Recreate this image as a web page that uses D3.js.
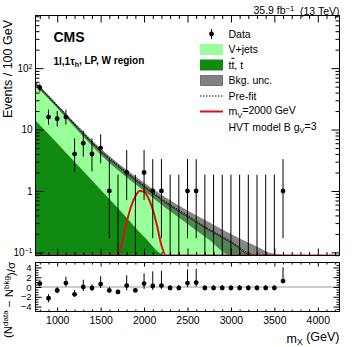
<!DOCTYPE html>
<html>
<head>
<meta charset="utf-8">
<script src="https://cdnjs.cloudflare.com/ajax/libs/d3/7.8.5/d3.min.js"></script>
<style>
body { margin: 0; background: #fff; }
text { font-family: "Liberation Sans", Arial, Helvetica, sans-serif; fill: #000; }
</style>
</head>
<body>
<div class="chart"></div>
<script>
// data
var massBins = [800, 900, 1000, 1100, 1200, 1300, 1400, 1500, 1600, 1700, 1800, 1900, 2000, 2100, 2200,
                2300, 2400, 2500, 2600, 2700, 2800, 2900, 3000, 3100, 3200, 3300, 3400, 3500, 3600];
var dataCounts = [48, 16, 15, 16, 4, 6, 4, 5, 1, 0, 2, 0, 2, 1, 1,
                  0, 0, 1, 1, 0, 0, 0, 0, 0, 0, 0, 0, 0, 1];
var dataLow = [41.1, 12.0, 11.2, 12.0, 2.08, 3.62, 2.08, 2.84, 0.17, 0, 0.71, 0, 0.71, 0.17, 0.17,
               0, 0, 0.17, 0.17, 0, 0, 0, 0, 0, 0, 0, 0, 0, 0.17];
var dataHigh = [56.0, 21.1, 20.0, 21.1, 7.16, 9.58, 7.16, 8.38, 3.30, 1.84, 4.64, 1.84, 4.64, 3.30, 3.30,
                1.84, 1.84, 3.30, 3.30, 1.84, 1.84, 1.84, 1.84, 1.84, 1.84, 1.84, 1.84, 1.84, 3.30];

var pulls = [0.7, -2.3, -0.7, 0.8, -1.5, 0.0, -0.2, 0.6, -0.7, -1.0, 0.3, -0.7, 0.7, 0.2, 0.3,
             -0.2, -0.2, 0.8, 0.9, -0.2, -0.2, -0.2, -0.2, -0.2, -0.2, -0.2, -0.2, -0.2, 1.2];
var pullErrLow = [0.6, 0.8, 0.6, 0.7, 0.5, 0.8, 0.6, 0.8, 0.5, 0.3, 1.0, 0.3, 1.1, 0.8, 0.7,
                  0.1, 0.1, 0.8, 0.8, 0.1, 0.1, 0.1, 0.1, 0.1, 0.1, 0.1, 0.1, 0.1, 0.3];
var pullErrHigh = [0.8, 0.85, 0.7, 1.3, 0.9, 1.5, 0.7, 1.6, 0.7, 0.5, 2.1, 0.4, 2.1, 3.0, 3.0,
                   0.6, 0.6, 2.8, 2.8, 0.6, 0.6, 0.6, 0.6, 0.6, 0.6, 0.6, 0.6, 0.6, 2.8];

var bkgMass = [750, 1000, 1250, 1500, 1750, 2000, 2250, 2500, 2750, 3000, 3250, 3500, 3750, 4000, 4250];
var bkgTotal = [56, 24, 10, 4.4, 2.2, 1.17, 0.64, 0.38, 0.23, 0.145, 0.088, 0.056, 0.036, 0.024, 0.016];
var bkgUp = [60, 25.7, 11, 4.9, 2.5, 1.36, 0.78, 0.48, 0.31, 0.2, 0.135, 0.095, 0.066, 0.046, 0.032];
var bkgDown = [52.5, 22.4, 9.1, 3.9, 1.9, 1.0, 0.53, 0.29, 0.16, 0.08, 0.045, 0.025, 0.014, 0.008, 0.005];
var preFit = [58, 25, 10.5, 4.6, 2.3, 1.22, 0.67, 0.40, 0.24, 0.152, 0.093, 0.06, 0.039, 0.026, 0.017];
var topYield = [14, 6.0, 2.5, 1.05, 0.44, 0.18, 0.076, 0.032, 0.013, 0.0055, 0.0023, 0.001, 0.0004, 0.0002, 0.0001];

var sigMass = [750, 1650, 1700, 1750, 1800, 1850, 1900, 1950, 2000, 2050, 2100, 2150, 2200, 2250, 2300, 4250];
var sigYield = [0.0001, 0.03, 0.06, 0.15, 0.31, 0.56, 0.82, 1.0, 0.97, 0.76, 0.50, 0.27, 0.13, 0.05, 0.02, 0.0001];

var yDecades = [0.1, 1, 10, 100];
var pullTicks = [-4, -2, 0, 2, 4];

var colVjets = '#99ff99',
    colTop = '#118a11',
    colSignal = '#dd1111';

var W = 357, H = 347;
var pLeft = 35.5, pRight = 339.5, pTop = 15.5, pBottom = 255.5,
    rTop = 262.5, rBottom = 311.5;

var svg = d3.select('.chart').append('svg')
  .attr('width', W)
  .attr('height', H);

var x = d3.scaleLinear().domain([750, 4250]).range([pLeft, pRight]);
var y = d3.scaleLog().domain([0.089, 720]).range([pBottom, pTop]);
var yr = d3.scaleLinear().domain([-5, 5]).range([rBottom, rTop]);

function cy(v) {
  return y(Math.max(v, y.domain()[0]));
}

svg.append('clipPath').attr('id', 'mainclip')
  .append('rect')
  .attr('x', pLeft).attr('y', pTop)
  .attr('width', pRight - pLeft).attr('height', pBottom - pTop);

var plot = svg.append('g').attr('clip-path', 'url(#mainclip)');

function series(xs, ys) {
  return xs.map(function(m, i) { return [m, ys[i]]; });
}

var area = d3.area()
  .x(function(d) { return x(d[0]); })
  .y0(pBottom)
  .y1(function(d) { return cy(d[1]); })
  .curve(d3.curveMonotoneX);

var line = d3.line()
  .x(function(d) { return x(d[0]); })
  .y(function(d) { return cy(d[1]); })
  .curve(d3.curveMonotoneX);

plot.append('path')
  .attr('d', area(series(bkgMass, bkgTotal)))
  .attr('fill', colVjets);

plot.append('path')
  .attr('d', area(series(bkgMass, topYield)))
  .attr('fill', colTop);

var band = d3.area()
  .x(function(d) { return x(d.m); })
  .y0(function(d) { return cy(d.lo); })
  .y1(function(d) { return cy(d.hi); })
  .curve(d3.curveMonotoneX);

plot.append('path')
  .attr('d', band(bkgMass.map(function(m, i) { return {m: m, lo: bkgDown[i], hi: bkgUp[i]}; })))
  .attr('fill', '#000')
  .attr('fill-opacity', 0.48);

plot.append('path')
  .attr('d', line(series(bkgMass, bkgTotal)))
  .attr('fill', 'none')
  .attr('stroke', '#222')
  .attr('stroke-width', 1);

plot.append('path')
  .attr('d', line(series(bkgMass, preFit)))
  .attr('fill', 'none')
  .attr('stroke', '#000')
  .attr('stroke-width', 1)
  .attr('stroke-dasharray', '1.5,1.5');

plot.append('path')
  .attr('d', line(series(sigMass, sigYield)))
  .attr('fill', 'none')
  .attr('stroke', colSignal)
  .attr('stroke-width', 2);

// data
var pts = massBins.map(function(m, i) {
  return {m: m, n: dataCounts[i], lo: dataLow[i], hi: dataHigh[i],
          p: pulls[i], plo: pullErrLow[i], phi: pullErrHigh[i]};
});

plot.selectAll('.err').data(pts).enter().append('line')
  .attr('class', 'err')
  .attr('x1', function(d) { return x(d.m); })
  .attr('x2', function(d) { return x(d.m); })
  .attr('y1', function(d) { return cy(d.lo); })
  .attr('y2', function(d) { return cy(d.hi); })
  .attr('stroke', '#000')
  .attr('stroke-width', 1);

plot.selectAll('.pt').data(pts.filter(function(d) { return d.n > 0; })).enter().append('circle')
  .attr('class', 'pt')
  .attr('cx', function(d) { return x(d.m); })
  .attr('cy', function(d) { return y(d.n); })
  .attr('r', 2.4)
  .attr('fill', '#000');

// ratio panel
svg.append('line')
  .attr('x1', pLeft).attr('x2', pRight)
  .attr('y1', yr(0)).attr('y2', yr(0))
  .attr('stroke', '#999')
  .attr('stroke-width', 1);

svg.selectAll('.perr').data(pts).enter().append('line')
  .attr('class', 'perr')
  .attr('x1', function(d) { return x(d.m); })
  .attr('x2', function(d) { return x(d.m); })
  .attr('y1', function(d) { return yr(d.p - d.plo); })
  .attr('y2', function(d) { return yr(d.p + d.phi); })
  .attr('stroke', '#000')
  .attr('stroke-width', 1);

svg.selectAll('.ppt').data(pts).enter().append('circle')
  .attr('class', 'ppt')
  .attr('cx', function(d) { return x(d.m); })
  .attr('cy', function(d) { return yr(d.p); })
  .attr('r', 2.4)
  .attr('fill', '#000');

// frames
[[pTop, pBottom], [rTop, rBottom]].forEach(function(p) {
  svg.append('rect')
    .attr('x', pLeft).attr('y', p[0])
    .attr('width', pRight - pLeft).attr('height', p[1] - p[0])
    .attr('fill', 'none')
    .attr('stroke', '#000')
    .attr('stroke-width', 1);
});

// axes
function drawAxis(axis, tx, ty) {
  var g = svg.append('g')
    .attr('transform', 'translate(' + tx + ',' + ty + ')')
    .call(axis);
  g.select('.domain').remove();
  g.attr('font-family', '"Liberation Sans", Arial, sans-serif').attr('font-size', 10);
  return g;
}

var xMajor = x.ticks(7),
    xMinor = x.ticks(35).filter(function(v) { return v % 500 !== 0; }),
    yMinor = y.ticks().filter(function(v) { return yDecades.indexOf(v) < 0; }),
    rMinor = d3.range(-4.5, 5, 0.5).filter(function(v) { return v % 2 !== 0; });

drawAxis(d3.axisTop(x).tickValues(xMajor).tickSize(-7).tickFormat(''), 0, pTop);
drawAxis(d3.axisTop(x).tickValues(xMinor).tickSize(-3.5).tickFormat(''), 0, pTop);
drawAxis(d3.axisBottom(x).tickValues(xMajor).tickSize(-7).tickFormat(''), 0, pBottom);
drawAxis(d3.axisBottom(x).tickValues(xMinor).tickSize(-3.5).tickFormat(''), 0, pBottom);
drawAxis(d3.axisTop(x).tickValues(xMajor).tickSize(-4).tickFormat(''), 0, rTop);
drawAxis(d3.axisTop(x).tickValues(xMinor).tickSize(-2).tickFormat(''), 0, rTop);
drawAxis(d3.axisBottom(x).tickValues(xMinor).tickSize(-2).tickFormat(''), 0, rBottom);
var xLab = drawAxis(d3.axisBottom(x).tickValues(xMajor).tickSize(-4).tickPadding(5).tickFormat(d3.format('d')), 0, rBottom);
xLab.attr('font-size', 10.5);

var yLab = drawAxis(d3.axisLeft(y).tickValues(yDecades).tickSize(-8).tickPadding(3), pLeft, 0);
drawAxis(d3.axisLeft(y).tickValues(yMinor).tickSize(-4).tickFormat(''), pLeft, 0);
drawAxis(d3.axisRight(y).tickValues(yDecades).tickSize(-8).tickFormat(''), pRight, 0);
drawAxis(d3.axisRight(y).tickValues(yMinor).tickSize(-4).tickFormat(''), pRight, 0);

yLab.selectAll('.tick text').each(function(d) {
  var t = d3.select(this).text('');
  var e = Math.round(Math.log10(d));
  if (e === 0) { t.text('1'); return; }
  if (e === 1) { t.text('10'); return; }
  t.append('tspan').text('10');
  t.append('tspan').attr('dy', '-0.45em').attr('font-size', '7px').text(String(e).replace('-', '\u2212'));
});

var rLab = drawAxis(d3.axisLeft(yr).tickValues(pullTicks).tickSize(-6).tickPadding(4), pLeft, 0);
rLab.attr('font-size', 9.5);
rLab.selectAll('.tick text').text(function(d) { return d < 0 ? '\u2212' + (-d) : d; });
drawAxis(d3.axisLeft(yr).tickValues(rMinor).tickSize(-3).tickFormat(''), pLeft, 0);
drawAxis(d3.axisRight(yr).tickValues(pullTicks).tickSize(-6).tickFormat(''), pRight, 0);
drawAxis(d3.axisRight(yr).tickValues(rMinor).tickSize(-3).tickFormat(''), pRight, 0);

// titles
var lumi = svg.append('text')
  .attr('x', pRight).attr('y', 13.5)
  .attr('text-anchor', 'end')
  .attr('font-size', 10.5);
lumi.append('tspan').text('35.9 fb');
lumi.append('tspan').attr('dy', '-0.4em').attr('font-size', '7.5px').text('\u22121');
lumi.append('tspan').attr('dy', '0.4em').text('\u00a0 (13 TeV)');

svg.append('text')
  .attr('x', 53.5).attr('y', 41.7)
  .attr('font-size', 14)
  .attr('font-weight', 'bold')
  .text('CMS');

var region = svg.append('text')
  .attr('x', 53.5).attr('y', 65)
  .attr('font-size', 10)
  .attr('font-weight', 'bold');
region.append('tspan').text('1l,1\u03c4');
region.append('tspan').attr('dy', '0.3em').attr('font-size', '7px').text('h');
region.append('tspan').attr('dy', '-0.3em').text(', LP, W region');

svg.append('text')
  .attr('transform', 'translate(11.5,20) rotate(-90)')
  .attr('text-anchor', 'end')
  .attr('font-size', 12.5)
  .text('Events /  100 GeV');

var rTitle = svg.append('text')
  .attr('transform', 'translate(11.5,300) rotate(-90)')
  .attr('text-anchor', 'middle')
  .attr('font-size', 11.5);
rTitle.append('tspan').text('(N');
rTitle.append('tspan').attr('dy', '-0.45em').attr('font-size', '8px').text('data');
rTitle.append('tspan').attr('dy', '0.45em').text(' \u2212 N');
rTitle.append('tspan').attr('dy', '-0.45em').attr('font-size', '8px').text('bkg');
rTitle.append('tspan').attr('dy', '0.45em').text(')/\u03c3');

var xTitle = svg.append('text')
  .attr('x', pRight).attr('y', 342.5)
  .attr('text-anchor', 'end')
  .attr('font-size', 12.5);
xTitle.append('tspan').text('m');
xTitle.append('tspan').attr('dy', '0.3em').attr('font-size', '8.5px').text('X');
xTitle.append('tspan').attr('dy', '-0.3em').text(' (GeV)');

// legend
var lg = svg.append('g').attr('class', 'legend').attr('font-size', 10.5);
var lx = 200, lw = 23, tx = 228.5;
var rows = [34, 49.5, 65, 80.5, 96, 111.5, 127];

lg.append('line').attr('x1', lx + lw / 2).attr('x2', lx + lw / 2)
  .attr('y1', rows[0] - 5).attr('y2', rows[0] + 5).attr('stroke', '#000');
lg.append('circle').attr('cx', lx + lw / 2).attr('cy', rows[0]).attr('r', 2.4).attr('fill', '#000');

lg.append('rect').attr('x', lx).attr('y', rows[1] - 5.5).attr('width', lw).attr('height', 11).attr('fill', colVjets);
lg.append('rect').attr('x', lx).attr('y', rows[2] - 5.5).attr('width', lw).attr('height', 11).attr('fill', colTop);
lg.append('rect').attr('x', lx + 0.5).attr('y', rows[3] - 5).attr('width', lw - 1).attr('height', 10)
  .attr('fill', '#808080').attr('stroke', '#222').attr('stroke-dasharray', '1,1');
lg.append('line').attr('x1', lx).attr('x2', lx + lw).attr('y1', rows[4]).attr('y2', rows[4])
  .attr('stroke', '#000').attr('stroke-dasharray', '1.5,1.5');
lg.append('line').attr('x1', lx).attr('x2', lx + lw).attr('y1', rows[5]).attr('y2', rows[5])
  .attr('stroke', colSignal).attr('stroke-width', 2);

function legendText(row) {
  return lg.append('text').attr('x', tx).attr('y', rows[row] + 3.8);
}
legendText(0).text('Data');
legendText(1).text('V+jets');
var tt = legendText(2);
tt.append('tspan').text('t');
tt.append('tspan').style('text-decoration', 'overline').text('t');
tt.append('tspan').text(', t');
legendText(3).text('Bkg. unc.');
legendText(4).text('Pre-fit');
var mv = legendText(5);
mv.append('tspan').text('m');
mv.append('tspan').attr('dy', '0.3em').attr('font-size', '7.5px').text('V');
mv.append('tspan').attr('dy', '-0.3em').text('=2000 GeV');
var hvt = legendText(6);
hvt.append('tspan').text('HVT model B g');
hvt.append('tspan').attr('dy', '0.3em').attr('font-size', '7.5px').text('V');
hvt.append('tspan').attr('dy', '-0.3em').text('=3');
</script>
</body>
</html>
